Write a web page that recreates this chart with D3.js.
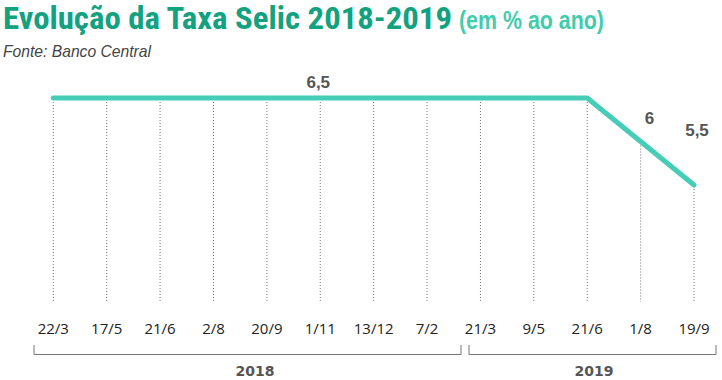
<!DOCTYPE html>
<html><head><meta charset="utf-8">
<script src="https://cdn.jsdelivr.net/npm/d3@7"></script>
<style>body{margin:0;background:#fff}svg{display:block}</style>
</head><body>
<svg id="c" width="722" height="380"></svg>
<script>
const dates = ["22/3","17/5","21/6","2/8","20/9","1/11","13/12","7/2","21/3","9/5","21/6","1/8","19/9"];
const rates = [6.5,6.5,6.5,6.5,6.5,6.5,6.5,6.5,6.5,6.5,6.5,6.0,5.5];
const valueLabels = [{i:5,t:"6,5"},{i:11,t:"6"},{i:12,t:"5,5"}];
const years = [{label:"2018",from:0,to:7},{label:"2019",from:8,to:12}];
const title = "Evolução da Taxa Selic 2018-2019";
const unit = "(em % ao ano)";
const source = "Fonte: Banco Central";

const svg = d3.select("#c");
const idx = dates.map((d,i)=>i);
const x = d3.scalePoint().domain(idx).range([53.3, 694]);
const y = d3.scaleLinear().domain([5.5, 6.5]).range([185, 98]);
const yBottom = 302;

// title
svg.append("text").attr("x",3).attr("y",29)
  .style("font-family","'Liberation Sans Narrow','Roboto Condensed',sans-serif")
  .style("font-weight","bold").style("font-size","31px")
  .attr("fill","#12a27f").text(title)
  .attr("textLength",449).attr("lengthAdjust","spacingAndGlyphs");
svg.append("text").attr("x",459).attr("y",29)
  .style("font-family","'Liberation Sans Narrow',sans-serif")
  .style("font-weight","bold").style("font-size","25px")
  .attr("fill","#3fcdae").text(unit)
  .attr("textLength",145).attr("lengthAdjust","spacingAndGlyphs");
svg.append("text").attr("x",3).attr("y",57)
  .style("font-family","'Liberation Sans Narrow',sans-serif")
  .style("font-style","italic").style("font-size","17px")
  .attr("fill","#444").text(source)
  .attr("textLength",148).attr("lengthAdjust","spacingAndGlyphs");

// gridlines
svg.append("g").selectAll("line").data(idx).join("line")
  .attr("x1",i=>x(i)).attr("x2",i=>x(i))
  .attr("y1",i=>y(rates[i])+4).attr("y2",yBottom)
  .attr("stroke","#777").attr("stroke-width",1)
  .attr("stroke-dasharray","1,2");

// line
const line = d3.line().x(i=>x(i)).y(i=>y(rates[i]));
svg.append("path").datum(idx).attr("d",line)
  .attr("fill","none").attr("stroke","#45cdb8").attr("stroke-width",5)
  .attr("stroke-linecap","round").attr("stroke-linejoin","round");

// value labels
const vlOff = {5:[-2,-10],11:[9,-17.5],12:[3,-49]};
svg.append("g").selectAll("text").data(valueLabels).join("text")
  .attr("x",d=>x(d.i)+vlOff[d.i][0])
  .attr("y",d=>y(rates[d.i])+vlOff[d.i][1])
  .attr("text-anchor","middle")
  .style("font-family","'Liberation Sans Narrow',sans-serif")
  .style("font-weight","bold").style("font-size","17px")
  .attr("fill","#555").text(d=>d.t);

// x tick labels
svg.append("g").selectAll("text").data(idx).join("text")
  .attr("x",i=>x(i)).attr("y",334).attr("text-anchor","middle")
  .style("font-family","'Open Sans',sans-serif").style("font-size","15px")
  .attr("fill","#222").text(i=>dates[i]);

// year brackets
const yr = svg.append("g");
const bx = [[34,461],[469,716]];
const lx = [255,594];
years.forEach((yy,k)=>{
  const [a,b] = bx[k];
  yr.append("path").attr("d",`M${a},345V354.5H${b}V345`)
    .attr("fill","none").attr("stroke","#777").attr("stroke-width",1);
  yr.append("text").attr("x",lx[k]).attr("y",376)
    .attr("text-anchor","middle")
    .style("font-family","'DejaVu Sans',sans-serif").style("font-weight","bold")
    .style("font-size","14px").attr("fill","#555").text(yy.label);
});
</script>
</body></html>
